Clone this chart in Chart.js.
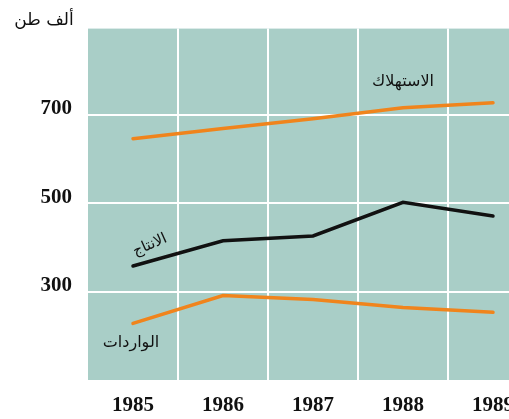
<!DOCTYPE html>
<html>
<head>
<meta charset="utf-8">
<script src="https://cdn.jsdelivr.net/npm/chart.js@4/dist/chart.umd.min.js"></script>
<style>
  html, body { margin: 0; padding: 0; background: #fff; overflow: hidden; }
  #wrap { width: 509px; height: 419px; overflow: hidden; }
</style>
</head>
<body>
<div id="wrap"><canvas id="chart" width="540" height="419"></canvas></div>
<script>
// Data (thousand tons)
const years = ['1985', '1986', '1987', '1988', '1989'];
const consumption = [646, 669, 691, 716, 727];
const production = [358, 415, 426, 502, 471];
const imports = [228, 291, 282, 264, 253];
const yTicks = [300, 500, 700];

const unitLabel = 'ألف طن';
const consumptionLabel = 'الاستهلاك';
const productionLabel = 'الانتاج';
const importsLabel = 'الواردات';

const orange = '#f0841c';
const arabicFont = '"DejaVu Sans", sans-serif';
const numFont = '"Liberation Serif", serif';

// plot background + text annotations
const decor = {
    id: 'decor',
    beforeDraw(chart) {
        const { ctx, chartArea: a } = chart;
        ctx.save();
        ctx.fillStyle = '#a9cec7';
        ctx.fillRect(a.left, a.top, a.right - a.left, a.bottom - a.top);
        ctx.restore();
    },
    afterDraw(chart) {
        const { ctx } = chart;
        const x = chart.scales.x, y = chart.scales.y;
        ctx.save();
        ctx.fillStyle = '#111';
        ctx.textAlign = 'center';
        ctx.textBaseline = 'middle';
        ctx.direction = 'rtl';

        ctx.font = '17px ' + arabicFont;
        ctx.fillText(unitLabel, 44, 21);

        ctx.font = '16px ' + arabicFont;
        ctx.fillText(consumptionLabel, x.getPixelForValue(3), y.getPixelForValue(775));
        ctx.fillText(importsLabel, x.getPixelForValue(0) - 2, y.getPixelForValue(185));

        ctx.font = '15px ' + arabicFont;
        ctx.translate(x.getPixelForValue(0) + 17, y.getPixelForValue(405));
        ctx.rotate(-0.42);
        ctx.fillText(productionLabel, 0, 0);
        ctx.restore();
    }
};

new Chart(document.getElementById('chart'), {
    type: 'line',
    data: {
        labels: years,
        datasets: [
            { label: consumptionLabel, data: consumption, borderColor: orange },
            { label: productionLabel, data: production, borderColor: '#111' },
            { label: importsLabel, data: imports, borderColor: orange }
        ]
    },
    options: {
        responsive: false,
        animation: false,
        layout: { padding: { top: 26, right: 2, left: 0, bottom: 0 } },
        elements: {
            point: { radius: 0 },
            line: { borderWidth: 3.5, tension: 0, borderCapStyle: 'round' }
        },
        plugins: {
            legend: { display: false },
            tooltip: { enabled: false }
        },
        scales: {
            x: {
                offset: true,
                border: { display: false },
                grid: {
                    offset: true,
                    color: ctx => ctx.index === 0 ? 'rgba(0,0,0,0)' : '#ffffff',
                    lineWidth: 2,
                    drawTicks: false
                },
                ticks: {
                    color: '#111',
                    padding: 13,
                    font: { family: numFont, size: 21, weight: 'bold' }
                },
                afterFit: s => { s.height = 39; }
            },
            y: {
                min: 100,
                max: 895,
                border: { display: false },
                afterBuildTicks: s => { s.ticks = yTicks.map(v => ({ value: v })); },
                grid: { color: '#ffffff', lineWidth: 2, drawTicks: false },
                ticks: {
                    color: '#111',
                    padding: 16,
                    labelOffset: -6,
                    font: { family: numFont, size: 21, weight: 'bold' }
                },
                afterFit: s => { s.width = 88; }
            }
        }
    },
    plugins: [decor]
});
</script>
</body>
</html>
